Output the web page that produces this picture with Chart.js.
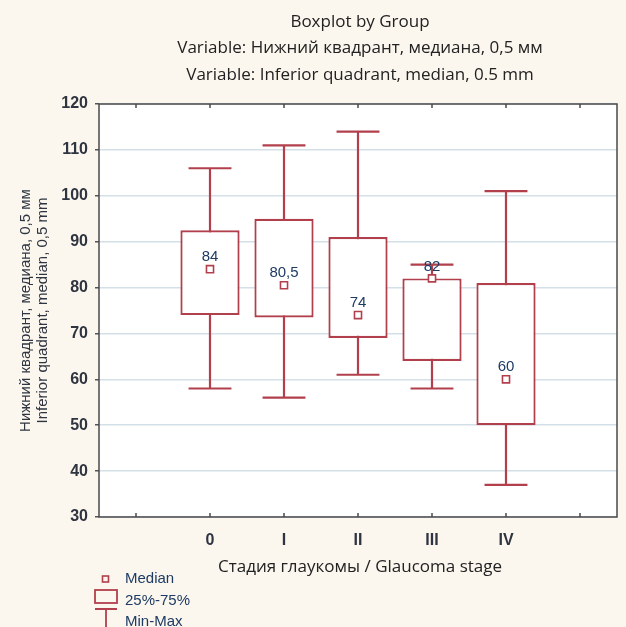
<!DOCTYPE html>
<html>
<head>
<meta charset="utf-8">
<script src="https://cdn.jsdelivr.net/npm/chart.js@4.4.0/dist/chart.umd.min.js"></script>
<style>
html,body{margin:0;padding:0;background:#FBF6EE;}
#wrap{position:relative;width:626px;height:627px;}
</style>
</head>
<body>
<div id="wrap"><canvas id="c" width="626" height="627"></canvas></div>
<script>
const categories = ['0', 'I', 'II', 'III', 'IV'];
const minVals    = [58, 56, 61, 58, 37];
const q1Vals     = [74, 73.5, 69, 64, 50];
const medians    = [84, 80.5, 74, 82, 60];
const q3Vals     = [92.5, 95, 91, 82, 81];
const maxVals    = [106, 111, 114, 85, 101];
const yTicks     = [30, 40, 50, 60, 70, 80, 90, 100, 110, 120];
const titleLines = ['Boxplot by Group', 'Variable: Нижний квадрант, медиана, 0,5 мм', 'Variable: Inferior quadrant, median, 0.5 mm'];
const yTitleLines = ['Нижний квадрант, медиана, 0,5 мм', 'Inferior quadrant, median, 0,5 mm'];
const xTitle = 'Стадия глаукомы / Glaucoma stage';
const legendItems = ['Median', '25%-75%', 'Min-Max'];

const RED = '#B2404C';
const TEXT = '#2e3440';
const LABEL = '#1d3b63';
const NARROW = '"Liberation Sans Narrow", "Liberation Sans", Arial, sans-serif';

const labels = ['', ...categories, ''];
const pad = arr => [null, ...arr, null];
const boxData = pad(categories.map((_, i) => [q1Vals[i], q3Vals[i]]));

const decorPlugin = {
  id: 'decor',
  beforeDraw(chart) {
    const {ctx, chartArea: a} = chart;
    ctx.save();
    ctx.fillStyle = '#FBF6EE';
    ctx.fillRect(0, 0, chart.width, chart.height);
    ctx.fillStyle = '#ffffff';
    ctx.fillRect(a.left, a.top, a.right - a.left, a.bottom - a.top);
    ctx.restore();
  },
  beforeDatasetsDraw(chart) {
    const {ctx} = chart;
    const x = chart.scales.x, y = chart.scales.y;
    ctx.save();
    ctx.strokeStyle = RED;
    ctx.lineWidth = 2.2;
    const cap = x.getPixelForValue(1) - x.getPixelForValue(0);
    categories.forEach((c, i) => {
      const px = Math.round(x.getPixelForValue(i + 1));
      const yMin = y.getPixelForValue(minVals[i]);
      const yMax = y.getPixelForValue(maxVals[i]);
      ctx.beginPath();
      ctx.moveTo(px, yMin); ctx.lineTo(px, yMax);
      const hw = cap * 0.29;
      ctx.moveTo(px - hw, yMin); ctx.lineTo(px + hw, yMin);
      ctx.moveTo(px - hw, yMax); ctx.lineTo(px + hw, yMax);
      ctx.stroke();
    });
    ctx.restore();
  },
  afterDatasetsDraw(chart) {
    const {ctx, chartArea: a} = chart;
    const x = chart.scales.x, y = chart.scales.y;
    ctx.save();
    // median labels
    ctx.fillStyle = LABEL;
    ctx.font = '15px "Liberation Sans", Arial, sans-serif';
    ctx.textAlign = 'center';
    ctx.textBaseline = 'middle';
    categories.forEach((c, i) => {
      const px = x.getPixelForValue(i + 1);
      const py = y.getPixelForValue(medians[i]);
      ctx.fillText(String(medians[i]).replace('.', ','), px, py - 12);
    });
    // frame
    ctx.strokeStyle = '#4a4a4a';
    ctx.lineWidth = 1.5;
    ctx.strokeRect(a.left, a.top, a.right - a.left, a.bottom - a.top);
    // inward x tick marks top/bottom
    for (let i = 0; i < labels.length; i++) {
      const px = x.getPixelForTick(i);
      ctx.beginPath();
      ctx.moveTo(px, a.bottom); ctx.lineTo(px, a.bottom - 4);
      ctx.moveTo(px, a.top); ctx.lineTo(px, a.top + 4);
      ctx.stroke();
    }
    // titles
    const cx = (a.left + a.right) / 2 + 2;
    ctx.fillStyle = '#222';
    ctx.font = '17px "Open Sans", sans-serif';
    ctx.textAlign = 'center';
    ctx.textBaseline = 'middle';
    titleLines.forEach((t, i) => ctx.fillText(t, cx, 22 + i * 26.5));
    // x title
    ctx.font = '17px "Open Sans", sans-serif';
    ctx.fillText(xTitle, cx, 567);
    // y title
    ctx.save();
    ctx.translate(26, (a.top + a.bottom) / 2);
    ctx.rotate(-Math.PI / 2);
    ctx.font = '15px "Liberation Sans", Arial, sans-serif';
    ctx.fillStyle = '#2e3440';
    ctx.fillText(yTitleLines[0], 0, 0);
    ctx.fillText(yTitleLines[1], 0, 16.5);
    ctx.restore();
    // legend
    ctx.strokeStyle = RED;
    ctx.lineWidth = 1.6;
    ctx.strokeRect(102.5, 576, 6, 6);
    ctx.lineWidth = 1.8;
    ctx.strokeRect(95, 590, 22, 13);
    ctx.beginPath();
    ctx.moveTo(95, 609); ctx.lineTo(117, 609);
    ctx.moveTo(106, 609); ctx.lineTo(106, 627);
    ctx.stroke();
    ctx.fillStyle = LABEL;
    ctx.font = '15px "Liberation Sans", Arial, sans-serif';
    ctx.textAlign = 'left';
    legendItems.forEach((t, i) => ctx.fillText(t, 125, 579 + i * 21.5));
    ctx.restore();
  }
};

new Chart(document.getElementById('c'), {
  data: {
    labels: labels,
    datasets: [
      {
        type: 'bar',
        data: boxData,
        backgroundColor: '#ffffff',
        borderColor: RED,
        borderWidth: 2.2,
        borderSkipped: false,
        barPercentage: 0.8,
        categoryPercentage: 1.0,
        order: 2
      },
      {
        type: 'line',
        data: pad(medians),
        showLine: false,
        pointStyle: 'rect',
        pointRadius: 5,
        pointBackgroundColor: '#ffffff',
        pointBorderColor: RED,
        pointBorderWidth: 1.6,
        order: 1
      }
    ]
  },
  options: {
    responsive: false,
    animation: false,
    events: [],
    layout: { padding: { top: 104, right: 9, left: 0, bottom: 0 } },
    plugins: { legend: { display: false }, tooltip: { enabled: false }, title: { display: false } },
    scales: {
      x: {
        type: 'category',
        offset: true,
        grid: { display: false },
        border: { display: false },
        ticks: { color: TEXT, font: { family: NARROW, size: 16, weight: 'bold' }, padding: 6, maxRotation: 0, autoSkip: false },
        afterFit(s) { s.height = 110; }
      },
      y: {
        type: 'linear',
        min: 30, max: 120,
        afterBuildTicks(s) { s.ticks = yTicks.map(v => ({ value: v })); },
        grid: { color: '#d3e0e8', lineWidth: 1.5, tickLength: 4, tickColor: '#555' },
        border: { display: false },
        ticks: { color: TEXT, font: { family: NARROW, size: 16, weight: 'bold' }, padding: 7 },
        afterFit(s) { s.width = 99; }
      }
    }
  },
  plugins: [decorPlugin]
});
</script>
</body>
</html>
